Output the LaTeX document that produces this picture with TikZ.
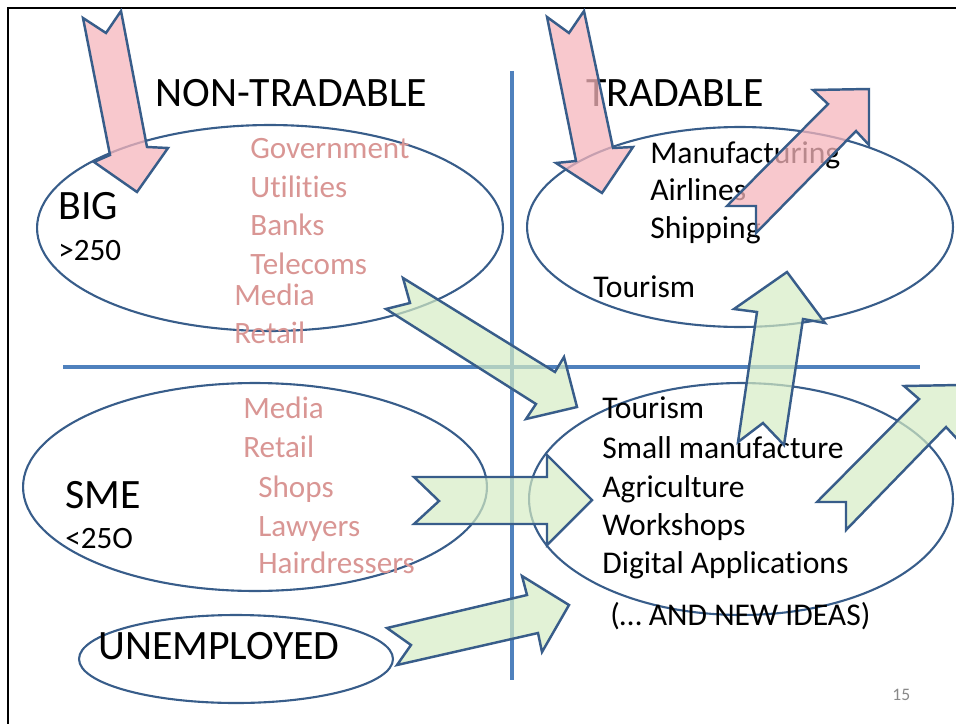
\documentclass[tikz,border=0pt]{standalone}
\usepackage{fontspec}
\setmainfont{Carlito}[Ligatures={NoCommon}]
\usepackage{xcolor}
\usetikzlibrary{shapes.geometric}
\definecolor{axisblue}{RGB}{79,129,189}
\definecolor{edgeblue}{RGB}{56,93,138}
\definecolor{sectorpink}{RGB}{217,150,148}
\definecolor{arrowred}{RGB}{246,182,188}
\definecolor{arrowgreen}{RGB}{214,236,196}
\definecolor{pagegray}{RGB}{137,137,137}

\begin{document}
\begin{tikzpicture}[x=0.02cm, y=-0.02cm,
      type-oval/.style={ellipse, draw=edgeblue, line width=1.2pt, inner sep=0pt},
      type-axis/.style={draw=axisblue, line width=2.3pt},
      type-title/.style={anchor=base west, inner sep=0pt, font=\fontsize{23.8}{28}\selectfont},
      type-size/.style={anchor=base west, inner sep=0pt, font=\fontsize{17.7}{21}\selectfont},
      type-pink/.style={type-size, text=sectorpink},
      type-item/.style={anchor=base west, inner sep=0pt, font=\fontsize{18}{22}\selectfont},
      type-red/.style={draw=edgeblue, line width=1.4pt, fill=arrowred, fill opacity=0.75},
      type-green/.style={draw=edgeblue, line width=1.4pt, fill=arrowgreen, fill opacity=0.7}
    ]
      \useasboundingbox (0,0) rectangle (956,723);
      \clip (0,0) rectangle (956,723);
      \draw[line width=1.4pt] (8,730) -- (8,8) -- (960,8);

      \node[type-oval, minimum width=9.32cm, minimum height=4.12cm] (big) at (270,228) {};
      \node[type-oval, minimum width=8.52cm, minimum height=4.0cm] (trade) at (740,227) {};
      \node[type-oval, minimum width=9.28cm, minimum height=4.16cm] (sme) at (255,487) {};
      \node[type-oval, minimum width=8.48cm, minimum height=4.64cm] (new) at (741,499) {};
      \node[type-oval, minimum width=6.28cm, minimum height=1.76cm] (unemp) at (236,659) {};

      \draw[type-axis] (512,71) -- (512,680);
      \draw[type-axis] (63,367) -- (920,367);

      \node[type-title] (nontrad) at (155,107) {NON-TRADABLE};
      \node[type-title] (trad) at (586,107) {TRADABLE};
      \node[type-title] (big-label) at (58,219) {BIG};
      \node[type-size] (big-size) at (58,260) {>250};
      \node[type-pink] (gov) at (250,158) {Government};
      \node[type-pink] (util) at (250,197) {Utilities};
      \node[type-pink] (bank) at (250,235) {Banks};
      \node[type-pink] (tele) at (250,274) {Telecoms};
      \node[type-pink] (media-big) at (234,305) {Media};
      \node[type-pink] (retail-big) at (234,343) {Retail};

      \node[type-item] (manu) at (650,163) {Manufacturing};
      \node[type-item] (air) at (650,200) {Airlines};
      \node[type-item] (ship) at (650,238) {Shipping};
      \node[type-item] (tour-trade) at (593,297) {Tourism};

      \node[type-title] (sme-label) at (65,508) {SME};
      \node[type-size] (sme-size) at (65,548) {<25O};
      \node[type-pink] (media-sme) at (243,418) {Media};
      \node[type-pink] (retail-sme) at (243,457) {Retail};
      \node[type-pink] (shop) at (258,497) {Shops};
      \node[type-pink] (lawyer) at (258,536) {Lawyers};
      \node[type-pink] (hair) at (258,573) {Hairdressers};

      \node[type-item] (tour-new) at (602,418) {Tourism};
      \node[type-item] (small) at (602,458) {Small manufacture};
      \node[type-item] (agri) at (602,497) {Agriculture};
      \node[type-item] (work) at (602,535) {Workshops};
      \node[type-item] (digi) at (602,573) {Digital Applications};
      \node[type-item] (ideas) at (610,625) {(\dots\ AND NEW IDEAS)};

      \node[type-title] (unemp-label) at (98,659) {UNEMPLOYED};
      \node[anchor=base west, inner sep=0pt, text=pagegray, font=\fontsize{10}{12}\selectfont] (page) at (892,700) {15};

      \draw[type-red] (83,18) -- (106,33) -- (121,11) -- (147,147) -- (168,148)
        -- (137,192) -- (94,162) -- (110,155) -- cycle;
      \draw[type-red] (547,17) -- (569,33) -- (584,11) -- (613,148) -- (633,147)
        -- (602,193) -- (556,163) -- (576,161) -- cycle;
      \draw[type-red] (727,206) -- (756,206) -- (756,233) -- (856,131) -- (869,145)
        -- (869,89) -- (813,90) -- (828,104) -- cycle;

      \draw[type-green] (403,278) -- (410,303) -- (386,309) -- (536,404) -- (526,419)
        -- (577,407) -- (564,357) -- (555,372) -- cycle;
      \draw[type-green] (414,477) -- (439,501) -- (414,524) -- (547,524) -- (547,545)
        -- (592,500) -- (547,455) -- (547,477) -- cycle;
      \draw[type-green] (387,628) -- (411,645) -- (397,665) -- (538,633) -- (542,652)
        -- (569,605) -- (522,576) -- (527,595) -- cycle;
      \draw[type-green] (738,442) -- (763,423) -- (784,445) -- (803,319) -- (825,323)
        -- (787,272) -- (734,309) -- (757,312) -- cycle;
      \draw[type-green] (817,502) -- (846,502) -- (846,530) -- (946,427) -- (959,441)
        -- (960,385) -- (904,386) -- (919,399) -- cycle;
    \end{tikzpicture}
\end{document}
